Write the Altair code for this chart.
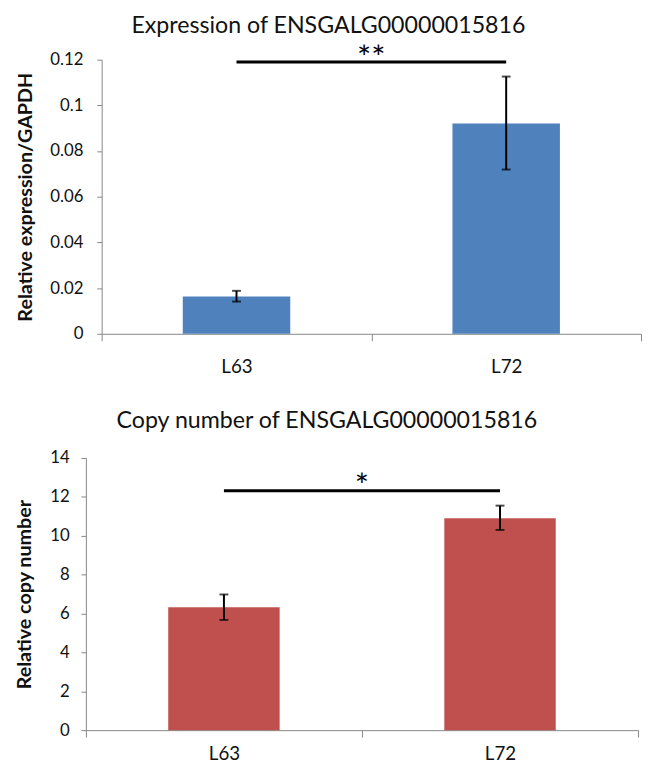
import altair as alt
import pandas as pd

lines = ["L63", "L72"]

expr_mean = [0.0163, 0.0921]
expr_lo = [0.0141, 0.0719]
expr_hi = [0.0188, 0.1126]
expr_ticks = [0, 0.02, 0.04, 0.06, 0.08, 0.1, 0.12]

copy_mean = [6.32, 10.9]
copy_lo = [5.67, 10.3]
copy_hi = [6.98, 11.55]
copy_ticks = [0, 2, 4, 6, 8, 10, 12, 14]

expr_sig_y, expr_star_y, expr_star = 0.119, 0.1159, "**"
copy_sig_y, copy_star_y, copy_star = 12.32, 12.01, "*"

FONT = "Lato"
AXIS_GRAY = "#868686"


def panel(means, lo, hi, ticks, fmt, color, title, ytitle, sig_y, star_y, star,
          width, height, barsize, toffset, lpad, xpad):
    df = pd.DataFrame({"line": lines, "mean": means, "lo": lo, "hi": hi})
    sig = pd.DataFrame({"a": [lines[0]], "b": [lines[1]], "y": [sig_y], "sy": [star_y], "star": [star]})
    xscale = alt.Scale(domain=lines, paddingInner=0, paddingOuter=0)
    yscale = alt.Scale(domain=[ticks[0], ticks[-1]], nice=False)
    xaxis = alt.Axis(title=None, labelAngle=0, tickBand="extent", tickSize=7,
                     tickColor=AXIS_GRAY, domainColor=AXIS_GRAY, labelFont=FONT,
                     labelFontSize=19, labelColor="#111", labelPadding=xpad)
    yaxis = alt.Axis(title=ytitle, values=ticks, format=fmt, grid=False, tickSize=5,
                     labelOverlap=False,
                     tickColor=AXIS_GRAY, domainColor=AXIS_GRAY, labelFont=FONT,
                     labelFontSize=17, labelColor="#111", labelPadding=lpad,
                     titleFont=FONT, titleFontSize=20, titleFontWeight="bold",
                     titleColor="#111", titlePadding=15)

    def X(f):
        return alt.X(f, scale=xscale, axis=xaxis)

    def Y(f):
        return alt.Y(f, scale=yscale, axis=yaxis)

    base = alt.Chart(df)
    bars = base.mark_bar(size=barsize, color=color).encode(x=X("line:N"), y=Y("mean:Q"))
    err = base.mark_rule(color="black", strokeWidth=2).encode(
        x=X("line:N"), y=Y("lo:Q"), y2="hi:Q")
    cap_lo = base.mark_tick(color="black", size=9, thickness=2).encode(
        x=X("line:N"), y=Y("lo:Q"))
    cap_hi = base.mark_tick(color="black", size=9, thickness=2).encode(
        x=X("line:N"), y=Y("hi:Q"))
    sbase = alt.Chart(sig)
    sline = sbase.mark_rule(color="black", strokeWidth=3).encode(
        x=X("a:N"), x2="b:N", y=Y("y:Q"))
    stext = sbase.mark_text(font=FONT, fontSize=34, color="black", baseline="alphabetic").encode(
        y=Y("sy:Q"), text="star:N")
    return alt.layer(bars, err, cap_lo, cap_hi, sline, stext).properties(
        width=width, height=height,
        title=alt.TitleParams(title, font=FONT, fontSize=23.5, fontWeight="normal",
                              color="#111", anchor="middle", frame="bounds", offset=toffset))


def spacer():
    return alt.Chart(pd.DataFrame({"v": [0]})).mark_rule(strokeWidth=0, opacity=0).encode(
        x=alt.value(0), x2=alt.value(0), y=alt.value(0), y2=alt.value(0)).properties(width=1, height=1)


top = panel(expr_mean, expr_lo, expr_hi, expr_ticks, ".2~g", "#4F81BD",
            "Expression of ENSGALG00000015816", "Relative expression/GAPDH",
            expr_sig_y, expr_star_y, expr_star, 547, 278, 109, 5, 14, 17)
bottom = panel(copy_mean, copy_lo, copy_hi, copy_ticks, "d", "#C0504D",
               "Copy number of ENSGALG00000015816", "Relative copy number",
               copy_sig_y, copy_star_y, copy_star, 560, 276, 113, 17, 12, 8)

row1 = alt.hconcat(spacer(), top, spacing=0)
row2 = alt.hconcat(spacer(), bottom, spacing=0)

chart = alt.vconcat(row1, row2, spacing=33).properties(
    padding={"left": 6, "top": 0, "right": 0, "bottom": 0}).configure_view(stroke=None)

chart.save("out.html", embed_options={"renderer": "svg", "actions": False})
